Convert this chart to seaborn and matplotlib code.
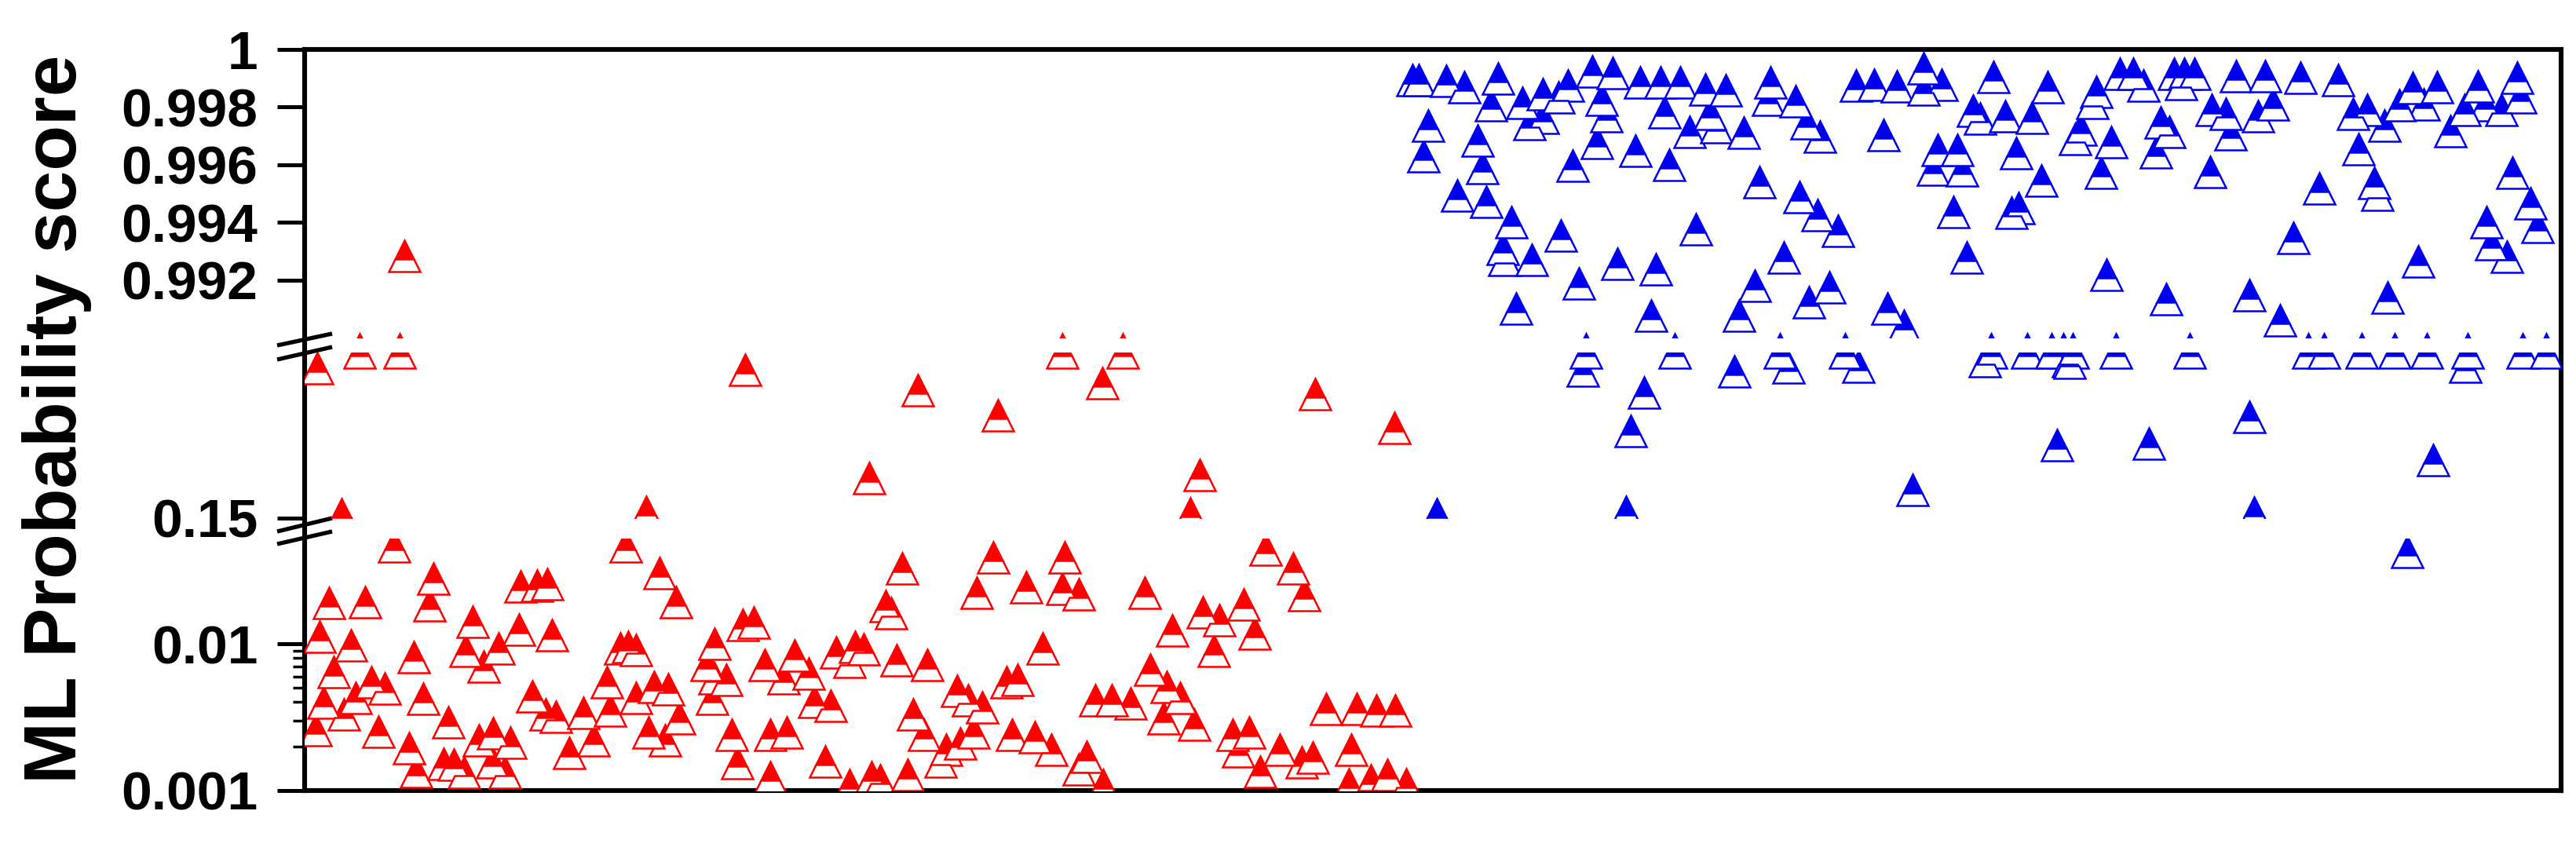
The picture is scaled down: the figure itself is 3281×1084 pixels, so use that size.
import numpy as np
import pandas as pd
import matplotlib
matplotlib.use("Agg")
import matplotlib.pyplot as plt
from matplotlib.lines import Line2D
from matplotlib.ticker import NullFormatter
import seaborn as sns

# compound position along x (ordering only) and ML probability score
red_x = [515, 458, 509, 1353, 1430,
         404, 949, 1169, 1271, 1404, 1675, 1776, 1107, 1528, 435, 823, 1516,
         502, 552, 547, 419, 465, 407, 447, 425, 473, 490, 412, 438, 453, 402, 527, 539,
         482, 521, 530, 565, 578, 591, 571, 602, 593, 616, 635, 661, 703, 663, 684, 697,
         610, 628, 650, 627, 643, 678, 695, 708, 743, 725, 756, 777, 773, 790, 800, 810,
         797, 810,
         840, 861, 833, 851, 865, 847, 826, 932, 910, 946, 960, 900, 910, 925, 907, 939,
         981, 981, 974, 1002, 1012, 998, 1030, 1037, 1058, 1065, 1089, 1100, 1082, 1051,
         1082, 1110, 1121, 1156, 1128, 1135, 1149, 1142, 1181, 1163, 1177, 1205, 1223,
         1198, 1219, 1233, 1251, 1240, 1244, 1265, 1282, 1296, 1307, 1289, 1318, 1328,
         1339, 1356, 1353, 1374, 1384, 1405, 1374, 1458, 1465, 1440, 1395, 1416, 1486,
         1503, 1493, 1482, 1521, 1532, 1546, 1553, 1584, 1598, 1612, 1647, 1661, 1570,
         1591, 1577, 1605, 1630, 1658, 1672, 1689, 1721, 1728, 1753, 1777, 1718, 1746,
         1767, 1791, 1742]
red_y = [0.99284, 0.9896, 0.9896, 0.9896, 0.9896,
         0.91, 0.903, 0.80, 0.672, 0.836, 0.778, 0.608, 0.353, 0.37, 0.17, 0.18, 0.175,
         0.046, 0.0278, 0.0183, 0.019, 0.0193, 0.0112, 0.00976, 0.0064, 0.00547, 0.00496,
         0.00397, 0.0033, 0.0043, 0.00258, 0.0081, 0.00423,
         0.00252, 0.00194, 0.00134, 0.00152, 0.0015, 0.00133, 0.00292, 0.0141, 0.009,
         0.007, 0.0093, 0.0125, 0.0115, 0.0246, 0.025, 0.0255,
         0.0022, 0.00246, 0.00213, 0.00155, 0.00132, 0.0044, 0.0033, 0.0032, 0.0034,
         0.00181, 0.0022, 0.0035, 0.0055, 0.0093, 0.0095, 0.0091,
         0.046, 0.0043,
         0.0303, 0.0192, 0.0051, 0.0049, 0.0031, 0.0022, 0.0025, 0.0024, 0.01, 0.0134,
         0.0139, 0.0072, 0.0058, 0.0057, 0.0042, 0.00154,
         0.00123, 0.0024, 0.0072, 0.0025, 0.0083, 0.0058, 0.0063, 0.004, 0.0038, 0.0087,
         0.0095, 0.0092, 0.0075, 0.00157,
         0.00109, 0.00123, 0.00117, 0.00128, 0.018, 0.0162, 0.0325, 0.0077, 0.0072,
         0.0033, 0.0024, 0.0019, 0.0021,
         0.00157, 0.0048, 0.0041, 0.0037, 0.0025, 0.0222, 0.0387, 0.0055, 0.0057, 0.0242,
         0.0024, 0.0023, 0.0093,
         0.0019, 0.0387, 0.0237, 0.0216, 0.0017, 0.00109, 0.0014, 0.0222, 0.0067, 0.0039,
         0.0041, 0.0041, 0.0051,
         0.0043, 0.0123, 0.0031, 0.0028, 0.0164, 0.009, 0.0145, 0.0186, 0.0117, 0.0436,
         0.0326, 0.0215, 0.0024,
         0.0025, 0.00185, 0.00134, 0.0019, 0.00156, 0.00167, 0.0036, 0.0019, 0.0036,
         0.0035, 0.0035, 0.0011, 0.00117,
         0.00128, 0.0011, 0.00105]

blue_x = [1799, 1807, 1842, 1865, 1908, 1899, 1939, 1965, 1965, 1948, 1997, 1985, 2028,
          2054, 2040, 2046, 2089, 2115, 2140, 2172, 2198, 2120, 2178, 2255, 2252, 2287,
          2301, 2318, 1819, 1882, 1813, 1888, 1856, 1893, 1925, 1914, 1916, 1951, 1988,
          1931, 2003, 2034, 2083, 2126, 2152, 2186, 2221, 2011, 2060, 2109, 2160, 2241,
          2292, 2315, 2341, 2272, 2235, 2330, 2304, 2103, 2215, 2404, 2425, 2399, 2364,
          2387, 2416, 2450, 2473, 2450, 2468, 2493, 2462, 2499, 2488, 2505, 2513, 2522,
          2554, 2588, 2539, 2608, 2568, 2600, 2571, 2562,
          2670, 2665, 2700, 2717, 2730, 2769, 2782, 2795, 2778, 2848, 2885, 2930, 2978,
          3073, 3104, 3156, 3206, 3210, 3165, 3139, 3087, 3056, 3015, 2997, 3037, 3121,
          3186, 2817, 2835, 2876, 2895, 2650, 2643, 2689, 2752, 2763, 2746, 2841, 2676,
          2815, 3004, 2954, 3024, 3028, 3200, 3223, 3232, 3167, 3173, 3193, 2921, 3080,
          2683, 2759, 2865, 3041, 2904,
          2020, 2133, 2267, 2350, 2536, 2582, 2628, 2613, 2640, 2695, 2789, 2940, 2960,
          3008, 3050, 3091, 3143, 3213, 3243,
          2016, 2209, 2278, 2367, 2528, 2634, 2094, 2077, 2620, 2436, 1830, 2071, 2636,
          3140, 2871, 2737, 2865, 3099, 3066]
blue_y = [0.99894, 0.99894, 0.99891, 0.99869, 0.999, 0.99807, 0.99815, 0.99845, 0.99763,
          0.99741, 0.99875, 0.99834, 0.99924, 0.99918, 0.99826, 0.99768, 0.99886, 0.99886,
          0.99886, 0.99861, 0.99858, 0.99782, 0.99777, 0.99886, 0.99826, 0.9982, 0.99744,
          0.99698, 0.99736, 0.99684, 0.99629, 0.99589, 0.99493, 0.99471, 0.994, 0.99308,
          0.9927, 0.9927, 0.99354, 0.991, 0.99597, 0.99676, 0.99648, 0.996, 0.99714,
          0.9973, 0.99711, 0.99188, 0.99256, 0.99237, 0.99376, 0.9954, 0.99488, 0.99425,
          0.9937, 0.99278, 0.9918, 0.99174, 0.99123, 0.99076, 0.99076, 0.991, 0.9904,
          0.99703, 0.99875, 0.99877, 0.99872, 0.99935, 0.99877, 0.99861, 0.99651, 0.99651,
          0.99583, 0.9958, 0.99436, 0.99278, 0.99787, 0.9976, 0.99768, 0.99763, 0.99905,
          0.99869, 0.9964, 0.99545, 0.9945, 0.99433,
          0.99853, 0.99815, 0.99916, 0.99916, 0.99875, 0.99916, 0.99916, 0.99916, 0.9988,
          0.99907, 0.99907, 0.99902, 0.99894, 0.99866, 0.99869, 0.99872, 0.99902, 0.99834,
          0.99807, 0.9979, 0.99809, 0.99807, 0.9979, 0.99777, 0.99736, 0.99717, 0.9979,
          0.9979, 0.99777, 0.99768, 0.99809, 0.99722, 0.9969, 0.99678, 0.99747, 0.99714,
          0.99643, 0.99706, 0.99572, 0.99575, 0.99654, 0.99518, 0.99537, 0.99496, 0.99572,
          0.99466, 0.99384, 0.994, 0.99324, 0.99281, 0.99346, 0.99264, 0.99218, 0.99134,
          0.99147, 0.99139, 0.9906,
          0.9896, 0.9896, 0.9896, 0.9896, 0.9896, 0.9896, 0.9896, 0.9896, 0.9896, 0.9896,
          0.9896, 0.9896, 0.9896, 0.9896, 0.9896, 0.9896, 0.9896, 0.9896, 0.9896,
          0.898, 0.894, 0.914, 0.918, 0.946, 0.946, 0.787, 0.592, 0.52, 0.293, 0.17, 0.18,
          0.938, 0.92, 0.178, 0.528, 0.663, 0.445, 0.042]

red = "#ff0000"
blue = "#0000f0"

# broken y axis: limits, ticks and labels of the three segments
top_lim = (0.990, 1.0)
mid_lim = (0.15, 0.99)
low_lim = (0.001, 0.0521)
top_ticks = [0.992, 0.994, 0.996, 0.998, 1.0]
top_labels = ["0.992", "0.994", "0.996", "0.998", "1"]
mid_ticks = [0.15]
mid_labels = ["0.15"]
low_ticks = [0.001, 0.01]
low_labels = ["0.001", "0.01"]
low_minor = [0.002, 0.003, 0.004, 0.005, 0.006, 0.007, 0.008, 0.009]

sns.set_theme(style="white")
plt.rcParams["font.family"] = ["Liberation Sans", "DejaVu Sans"]
plt.rcParams["font.weight"] = "bold"
plt.rcParams["text.color"] = "black"
plt.rcParams["ytick.color"] = "black"
plt.rcParams["ytick.labelcolor"] = "black"

W, H = 3281, 1084
fig = plt.figure(figsize=(W / 100, H / 100), dpi=100)

def px_box(x0, y0, x1, y1):
    return [x0 / W, 1 - y1 / H, (x1 - x0) / W, (y1 - y0) / H]

left, right = 388, 3262

# outer frame
frame = fig.add_axes(px_box(left, 63, right, 1007), zorder=0)
frame.set_xticks([])
frame.set_yticks([])
for s in frame.spines.values():
    s.set_linewidth(4.4)
    s.set_color("black")

ax_top = fig.add_axes(px_box(left, 63, right, 430), zorder=2)
ax_mid = fig.add_axes(px_box(left, 449, right, 660), zorder=2)
ax_low = fig.add_axes(px_box(left, 686, right, 1007), zorder=2)
ax_low.set_yscale("log")

def draw_points(ax, lo, hi):
    for xs, ys, col in ((red_x, red_y, red), (blue_x, blue_y, blue)):
        d = pd.DataFrame({"x": xs, "y": ys})
        d = d[(d["y"] >= lo) & (d["y"] < hi)]
        sns.lineplot(data=d, x="x", y="y", estimator=None, sort=False, ax=ax,
                     color=col, linestyle="", marker="^", markersize=29,
                     fillstyle="top", markerfacecoloralt="white",
                     markeredgecolor=col, markeredgewidth=1.8, legend=False)

draw_points(ax_top, 0.9894, 1.01)
draw_points(ax_mid, 0.1, 0.99)
draw_points(ax_low, 0.0001, 0.07)

for ax, lim, ticks, labels in ((ax_top, top_lim, top_ticks, top_labels),
                               (ax_mid, mid_lim, mid_ticks, mid_labels),
                               (ax_low, low_lim, low_ticks, low_labels)):
    ax.set_xlim(left, right)
    ax.set_ylim(*lim)
    ax.patch.set_visible(False)
    for s in ax.spines.values():
        s.set_visible(False)
    ax.set_xticks([])
    ax.set_xlabel("")
    ax.set_ylabel("")
    ax.set_yticks(ticks)
    ax.set_yticklabels(labels, fontsize=50, fontweight="bold", color="black")
    ax.tick_params(axis="y", which="major", direction="out", length=25, width=3.6,
                   pad=18, left=True, color="black")

ax_low.set_yticks(low_minor, minor=True)
ax_low.yaxis.set_minor_formatter(NullFormatter())
ax_low.tick_params(axis="y", which="minor", direction="out", length=11, width=2.5,
                   left=True, color="black")

# break marks on the left axis
for y1, y2 in ((440, 425), (458, 442), (677, 660), (693, 677)):
    fig.add_artist(Line2D([353 / W, 423 / W], [1 - y1 / H, 1 - y2 / H],
                          color="black", lw=3.8, solid_capstyle="butt"))

fig.text(73 / W, 1 - 534 / H, "ML Probability score", rotation=90, ha="center",
         va="center", fontsize=68, fontweight="bold", color="black")

fig.savefig("out.png", dpi=100, facecolor="white")
